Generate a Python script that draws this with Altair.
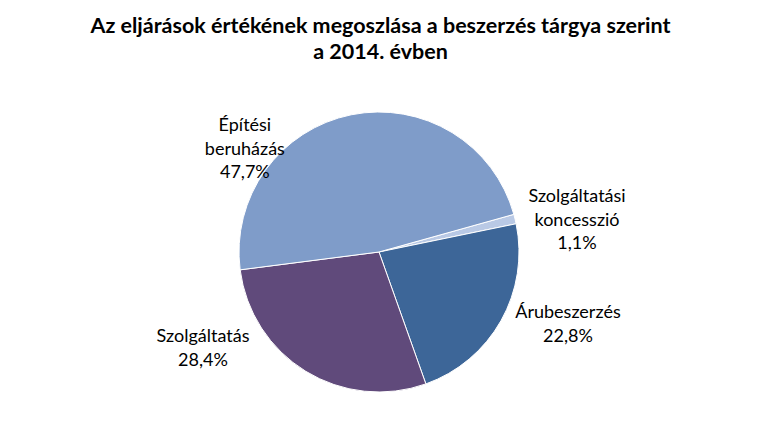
import math
import altair as alt
import pandas as pd

# Data
categories = ["Szolgáltatási koncesszió", "Árubeszerzés", "Szolgáltatás", "Építési beruházás"]
label_lines = [["Szolgáltatási", "koncesszió"], ["Árubeszerzés"], ["Szolgáltatás"], ["Építési", "beruházás"]]
values = [1.1, 22.8, 28.4, 47.7]
colors = ["#B9C9E5", "#3D6698", "#604A7B", "#7F9CC9"]

# Layout (label placement of the first line, like Excel's best-fit labels)
label_angle_deg = [74.5, 107.9, 244.2, 313.2]
label_radius = [205.5, 198.6, 195.5, 184]
start_angle = math.radians(74.4)

df = pd.DataFrame({
    "cat": categories,
    "value": values,
    "order": list(range(len(categories))),
    "label": ["\n".join(l + [f"{v:.1f}".replace(".", ",") + "%"]) for l, v in zip(label_lines, values)],
    "langle": label_angle_deg,
    "lrad": label_radius,
})

PAD_TOP = 72
CX, CY = 379, 252 - PAD_TOP

base = alt.Chart(df)

pie = base.mark_arc(outerRadius=140, stroke="white", strokeWidth=1).encode(
    theta=alt.Theta("value:Q", stack=True,
                    scale=alt.Scale(domain=[0, sum(values)], range=[start_angle, start_angle + 2 * math.pi])),
    order=alt.Order("order:Q"),
    color=alt.Color("cat:N", scale=alt.Scale(domain=categories, range=colors), legend=None),
    x=alt.value(CX),
    y=alt.value(CY),
)

labels = base.mark_text(font="Lato", fontSize=18, lineBreak="\n", lineHeight=23.5,
                        align="center", baseline="middle", color="black").encode(
    theta=alt.Theta("langle:Q", stack=None, scale=alt.Scale(domain=[0, 360], range=[0, 2 * math.pi])),
    radius=alt.Radius("lrad:Q", scale=alt.Scale(type="linear", domain=[0, 300], range=[0, 300], zero=True)),
    text="label:N",
    x=alt.value(CX),
    y=alt.value(CY),
)

chart = alt.layer(pie, labels).resolve_scale(theta="independent", radius="independent").properties(
    width=761,
    height=433 - PAD_TOP,
    padding={"top": PAD_TOP, "left": 0, "right": 0, "bottom": 0},
    autosize=alt.AutoSizeParams(type="none"),
    title=alt.TitleParams(
        text=["Az eljárások értékének megoszlása a beszerzés tárgya szerint", "a 2014. évben"],
        font="Lato", fontSize=21.5, fontWeight="bold", color="black",
        anchor="middle", lineHeight=26, offset=9,
    ),
).configure(background="white").configure_view(strokeWidth=0, stroke=None)

chart.save("out.html", embed_options={"renderer": "svg", "actions": False})
